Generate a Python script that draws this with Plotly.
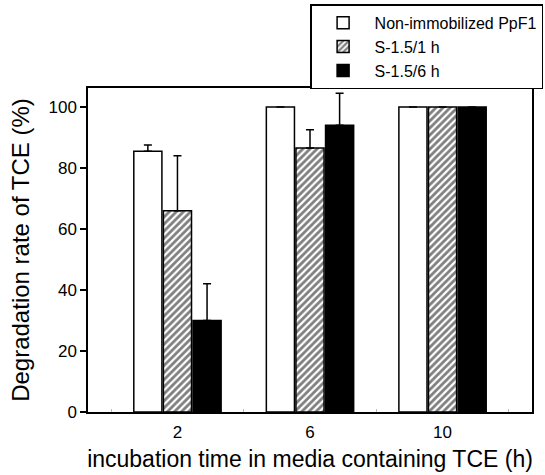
import plotly.graph_objects as go

times = [2, 6, 10]
series_names = ["Non-immobilized PpF1", "S-1.5/1 h", "S-1.5/6 h"]
non_immobilized = [85.5, 100, 100]
s15_1h = [66, 86.5, 100]
s15_6h = [30, 94, 100]
err_non_immobilized = [2, 0, 0]
err_s15_1h = [18, 6, 0]
err_s15_6h = [12, 10.5, 0]

values = [non_immobilized, s15_1h, s15_6h]
errors = [err_non_immobilized, err_s15_1h, err_s15_6h]
fills = [
    dict(color="white"),
    dict(color="white", pattern=dict(shape="/", fgcolor="black", bgcolor="white", size=5, solidity=0.55)),
    dict(color="black"),
]

fig = go.Figure()
for name, vals, errs, fill in zip(series_names, values, errors, fills):
    fig.add_trace(go.Bar(
        x=times, y=vals, name=name,
        marker=dict(**fill, line=dict(color="black", width=1.5)),
        error_y=dict(type="data", symmetric=False, array=errs,
                     arrayminus=[0] * len(errs), color="black",
                     thickness=1.5, width=4),
    ))

font_family = "Liberation Sans, Arial, sans-serif"
fig.update_layout(
    width=545, height=475,
    margin=dict(l=88, r=13, t=88, b=63, autoexpand=False),
    paper_bgcolor="white", plot_bgcolor="white",
    barmode="group", bargap=0.33, bargroupgap=0.05,
    font=dict(family=font_family, color="black", size=16),
    legend=dict(
        x=1.025, y=1.258, xanchor="right", yanchor="top",
        bordercolor="black", borderwidth=1.5, bgcolor="white",
        font=dict(size=16), tracegroupgap=0, itemwidth=53,
    ),
    showlegend=True,
)
fig.update_xaxes(
    range=[-0.7, 12.7], tickmode="array", tickvals=times,
    ticktext=[str(t) for t in times], ticks="",
    showline=True, linecolor="black", linewidth=1.5, mirror=True,
    showgrid=False, zeroline=False,
    tickfont=dict(size=17), ticklabelstandoff=4,
    minor=dict(tickmode="array", tickvals=[0, 4, 8, 12], ticks="inside",
               ticklen=3, tickcolor="#bbbbbb", tickwidth=1),
    title=dict(text="incubation time in media containing TCE (h)",
               font=dict(size=23), standoff=10),
)
fig.update_yaxes(
    range=[0, 106.2], tickmode="array", tickvals=[0, 20, 40, 60, 80, 100],
    ticks="outside", ticklen=6, tickwidth=1.5, tickcolor="black",
    showline=True, linecolor="black", linewidth=1.5, mirror=True,
    showgrid=False, zeroline=False,
    tickfont=dict(size=17),
    title=dict(text="Degradation rate of TCE (%)", font=dict(size=24), standoff=12),
)

fig.write_html("out.html", config={"displayModeBar": False},
               post_script="document.body.style.margin='0';")
